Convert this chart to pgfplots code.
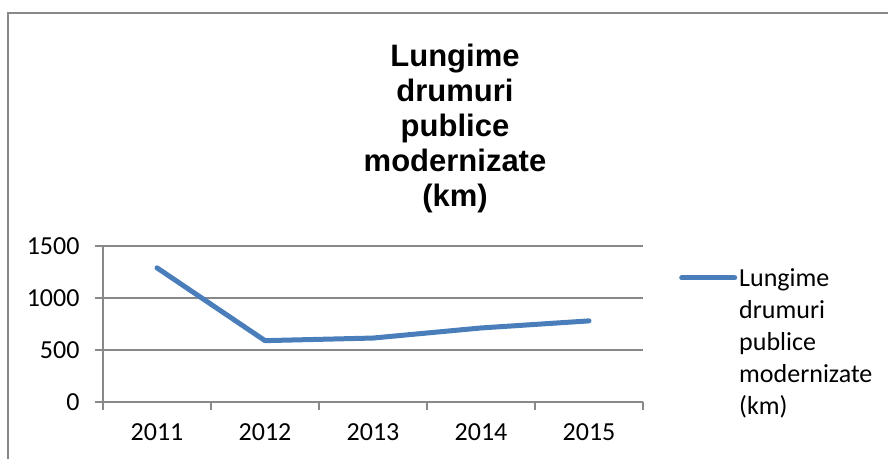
\documentclass[border=0pt]{standalone}
\usepackage{fontspec}
\setmainfont{Carlito}
\newfontfamily\titlefont{Liberation Sans}
\usepackage{pgfplots}
\pgfplotsset{compat=1.18}
\definecolor{serie}{HTML}{4A7EBB}
\definecolor{grila}{HTML}{888888}

\begin{document}
\begin{tikzpicture}[x=1pt,y=1pt]
\useasboundingbox (0,0) rectangle (888,-459);
% chenar
\draw[grila, line width=2pt] (8,-459) -- (8,-13) -- (888,-13);
% titlu
\node[align=center, font=\titlefont\bfseries\fontsize{31}{35}\selectfont, anchor=north]
  at (455,-40) {Lungime\\drumuri\\publice\\modernizate\\(km)};
\begin{axis}[
    at={(103pt,-402pt)}, anchor=origin,
    scale only axis, width=540pt, height=156pt,
    xmin=0.5, xmax=5.5, ymin=0, ymax=1500,
    axis lines*=left, axis line style={grila, line width=1.5pt, -},
    xtick={1,2,3,4,5}, xticklabels={2011,2012,2013,2014,2015},
    minor xtick={0.5,1.5,2.5,3.5,4.5,5.5},
    major x tick style={draw=none},
    ytick={0,500,1000,1500},
    ymajorgrids, grid style={grila, line width=1.5pt},
    tick align=outside, tick style={grila, line width=1.5pt},
    minor tick length=8pt, major tick length=8pt,
    ticklabel style={font=\fontsize{26}{30}\selectfont, text=black},
    yticklabel style={xshift=-12pt},
    xticklabel style={yshift=-10pt},
    /pgf/number format/assume math mode=true,
    /pgf/number format/set thousands separator={},
    legend style={at={(573pt,138pt)}, anchor=north west, draw=none, fill=none,
      legend cell align=left, font=\fontsize{26}{32}\selectfont},
    legend image code/.code={\draw[#1, line width=5pt, line cap=round] (0pt,0pt) -- (53pt,0pt);},
]
\addplot[serie, line width=5pt, line cap=round, line join=round] coordinates {
    (1,1290) (2,590) (3,615) (4,712) (5,780)
};
\addlegendentry{\parbox[t]{145pt}{\fontsize{26}{32}\selectfont Lungime\\drumuri\\publice\\modernizate\\(km)}}
\end{axis}
\end{tikzpicture}
\end{document}
